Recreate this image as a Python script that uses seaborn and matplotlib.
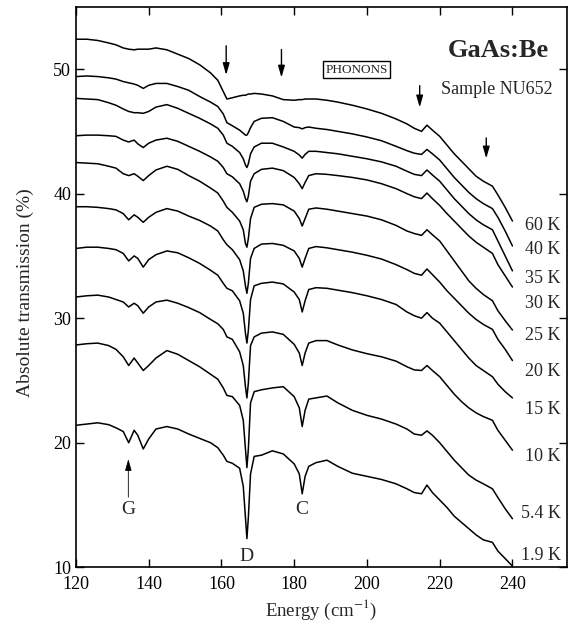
import numpy as np
import pandas as pd
import matplotlib
matplotlib.use("Agg")
import matplotlib.pyplot as plt
import seaborn as sns

# energy grid (cm^-1), denser around the sharp local-mode lines
energy = [120, 123, 126, 129, 131, 133, 134.5, 136, 137, 138.5,
          140, 142, 145, 148, 151, 154, 157, 159, 160.5, 161.5,
          163, 165, 166, 166.6, 167, 167.4, 168, 169, 171, 174,
          177, 180, 181.4, 182.2, 183, 184, 186, 189, 192, 196,
          200, 204, 208, 211, 213, 215, 216.5, 218, 220, 222,
          224, 226, 228, 230, 232, 234.5, 236, 238, 240]

# absolute transmission (%), one list per temperature
t60 = [52.4, 52.4, 52.3, 52.1, 51.95, 51.7, 51.6, 51.55, 51.6, 51.6,
       51.6, 51.7, 51.55, 51.2, 50.85, 50.35, 49.7, 49.1, 48.2, 47.6,
       47.7, 47.85, 47.9, 47.9, 47.95, 48.0, 48.0, 48.05, 48.0, 47.85,
       47.55, 47.5, 47.55, 47.55, 47.6, 47.6, 47.6, 47.5, 47.35, 47.1,
       46.8, 46.45, 46.0, 45.6, 45.25, 45.0, 45.5, 45.1, 44.6, 43.9,
       43.2, 42.6, 42.0, 41.4, 41.0, 40.6, 39.9, 38.9, 37.8]
t40 = [49.4, 49.45, 49.4, 49.3, 49.2, 49.0, 48.9, 48.8, 48.7, 48.45,
       48.7, 48.85, 48.85, 48.6, 48.3, 47.8, 47.35, 47.0, 46.4, 45.7,
       45.45, 45.1, 44.85, 44.7, 44.7, 44.9, 45.3, 45.8, 46.05, 46.1,
       45.8, 45.35, 45.3, 45.2, 45.3, 45.35, 45.25, 45.15, 45.0, 44.8,
       44.55, 44.25, 43.8, 43.45, 43.25, 43.15, 43.55, 43.2, 42.7, 42.0,
       41.3, 40.7, 40.1, 39.6, 39.2, 38.8, 38.1, 37.0, 35.8]
t35 = [47.65, 47.6, 47.55, 47.3, 47.1, 46.8, 46.6, 46.5, 46.5, 46.45,
       46.6, 46.95, 47.15, 46.85, 46.45, 46.05, 45.6, 45.25, 44.7, 44.05,
       43.8, 43.3, 42.8, 42.3, 42.1, 42.4, 43.2, 43.75, 44.05, 44.05,
       43.75, 43.4, 43.1, 42.85, 43.15, 43.4, 43.4, 43.3, 43.2, 43.0,
       42.8, 42.55, 42.2, 41.8, 41.55, 41.45, 41.9, 41.5, 41.0, 40.3,
       39.6, 39.0, 38.4, 37.9, 37.5, 37.1, 36.2, 35.0, 33.8]
t30 = [44.65, 44.7, 44.7, 44.65, 44.6, 44.3, 44.15, 44.3, 44.0, 43.7,
       44.05, 44.3, 44.45, 44.2, 43.8, 43.4, 42.95, 42.6, 42.1, 41.6,
       41.35, 40.8, 40.2, 39.6, 39.35, 39.8, 41.0, 41.6, 41.95, 42.05,
       41.85, 41.3, 40.8, 40.4, 40.9, 41.45, 41.6, 41.55, 41.45, 41.3,
       41.1, 40.8, 40.4, 40.0, 39.75, 39.6, 40.05, 39.6, 39.05, 38.4,
       37.8, 37.2, 36.6, 36.1, 35.7, 35.2, 34.3, 33.4, 32.5]
t25 = [42.5, 42.45, 42.4, 42.2, 42.05, 41.6, 41.45, 41.6, 41.4, 41.05,
       41.45, 41.9, 42.2, 41.95, 41.45, 41.0, 40.45, 40.05, 39.4, 38.9,
       38.5, 37.8, 37.1, 36.0, 35.7, 36.4, 38.0, 38.9, 39.15, 39.2,
       39.1, 38.6, 38.0, 37.4, 38.0, 38.75, 38.85, 38.75, 38.6, 38.4,
       38.2, 37.9, 37.45, 37.0, 36.8, 36.65, 37.1, 36.7, 36.2, 35.4,
       34.6, 33.8, 33.0, 32.4, 31.9, 31.4, 30.6, 29.8, 29.05]
t20 = [38.95, 38.95, 38.9, 38.8, 38.7, 38.4, 37.9, 38.3, 38.1, 37.7,
       38.1, 38.5, 38.8, 38.6, 38.2, 37.85, 37.4, 37.0, 36.3, 35.9,
       35.5, 34.7, 33.8, 32.6, 32.0, 32.8, 34.8, 35.6, 35.95, 36.0,
       35.85, 35.4, 34.8, 34.1, 34.8, 35.6, 35.75, 35.65, 35.5, 35.3,
       35.05, 34.75, 34.3, 33.9, 33.6, 33.45, 33.95, 33.5, 32.9, 32.2,
       31.6, 31.0, 30.4, 29.9, 29.5, 29.1, 28.3, 27.5, 26.6]
t15 = [35.6, 35.7, 35.7, 35.6, 35.5, 35.2, 34.6, 35.0, 34.8, 34.1,
       34.7, 35.1, 35.4, 35.25, 34.85, 34.4, 33.85, 33.45, 32.8, 32.4,
       32.2, 31.4, 30.4, 28.8, 28.0, 29.0, 31.5, 32.6, 32.8, 32.9,
       32.75, 32.1, 31.5, 30.5, 31.4, 32.3, 32.45, 32.4, 32.25, 32.05,
       31.8, 31.5, 31.1, 30.5, 30.2, 30.0, 30.45, 30.0, 29.6, 28.9,
       28.2, 27.5, 26.8, 26.2, 25.8, 25.3, 24.7, 24.1, 23.6]
t10 = [31.7, 31.8, 31.85, 31.7, 31.5, 31.3, 30.9, 31.2, 31.0, 30.4,
       30.9, 31.3, 31.45, 31.2, 30.85, 30.45, 29.9, 29.55, 29.1, 28.5,
       28.3, 27.3, 26.2, 24.5, 23.6, 24.8, 27.8, 28.5, 28.8, 28.9,
       28.7, 27.9, 27.2, 26.2, 27.2, 28.0, 28.2, 28.2, 27.85, 27.45,
       27.15, 26.9, 26.55, 26.1, 25.85, 25.8, 26.2, 25.8, 25.3, 24.6,
       23.9, 23.3, 22.8, 22.4, 22.1, 21.8, 21.0, 20.2, 19.4]
t5_4 = [27.85, 27.95, 28.0, 27.8, 27.5, 26.9, 26.2, 26.8, 26.4, 25.8,
        26.2, 26.8, 27.4, 27.1, 26.6, 26.1, 25.5, 25.1, 24.4, 23.8,
        23.7, 23.0, 21.8, 19.5, 18.0, 19.5, 23.2, 24.1, 24.25, 24.4,
        24.5, 23.7, 22.8, 21.3, 22.6, 23.5, 23.6, 23.75, 23.2, 22.6,
        22.2, 21.9, 21.5, 21.1, 20.7, 20.6, 20.95, 20.6, 20.0, 19.3,
        18.6, 18.0, 17.4, 17.0, 16.7, 16.3, 15.6, 14.7, 13.9]
t1_9 = [21.4, 21.5, 21.6, 21.45, 21.2, 20.9, 20.0, 21.0, 20.6, 19.5,
        20.3, 21.1, 21.3, 21.1, 20.7, 20.35, 20.0, 19.6, 19.0, 18.5,
        18.35, 17.95, 16.5, 14.0, 12.3, 14.0, 17.5, 18.9, 19.0, 19.35,
        19.1, 18.3, 17.5, 15.9, 17.3, 18.1, 18.4, 18.6, 18.1, 17.55,
        17.3, 17.05, 16.7, 16.3, 16.0, 15.9, 16.6, 16.0, 15.4, 14.8,
        14.1, 13.6, 13.1, 12.6, 12.2, 12.0, 11.3, 10.7, 10.1]

temps = ["60 K", "40 K", "35 K", "30 K", "25 K", "20 K", "15 K", "10 K", "5.4 K", "1.9 K"]
series = [t60, t40, t35, t30, t25, t20, t15, t10, t5_4, t1_9]
label_y = [37.45, 35.55, 33.15, 31.2, 28.65, 25.75, 22.7, 18.9, 14.35, 10.95]

# phonon arrows (energy, top, bottom)
phonon_x = [161.3, 176.5, 214.5, 232.8]
phonon_top = [52.1, 51.8, 48.9, 44.7]
phonon_bot = [49.3, 49.1, 46.7, 42.6]

df = pd.concat([pd.DataFrame({"energy": energy, "trans": s, "temp": t})
                for s, t in zip(series, temps)], ignore_index=True)

sns.set_style("ticks")
plt.rcParams["font.family"] = ["Liberation Serif", "DejaVu Serif"]
plt.rcParams["mathtext.fontset"] = "stix"

fig = plt.figure(figsize=(5.71, 6.22), dpi=100)
ax = fig.add_axes([0.133, 0.088, 0.860, 0.901])

sns.lineplot(data=df, x="energy", y="trans", hue="temp", palette=["black"] * len(temps),
             legend=False, linewidth=1.1, ax=ax, sort=False)

ax.set_xlim(120, 255)
ax.set_ylim(10, 55)
ax.set_xticks([120, 140, 160, 180, 200, 220, 240])
ax.set_yticks([10, 20, 30, 40, 50])
ax.tick_params(direction="in", length=6, width=1, top=True, right=True,
               labelsize=13, colors="black")
ax.tick_params(axis="x", pad=6)
for sp in ax.spines.values():
    sp.set_linewidth(1.2)
    sp.set_color("black")

ax.set_xlabel("Energy (cm$^{-1}$)", fontsize=13.5)
ax.xaxis.set_label_coords(0.5, -0.055)
ax.set_ylabel("Absolute transmission (%)", fontsize=14)
ax.yaxis.set_label_coords(-0.085, 0.49)

for t, y in zip(temps, label_y):
    ax.text(253.3, y, t, ha="right", va="center", fontsize=13)

for xv, y0, y1 in zip(phonon_x, phonon_top, phonon_bot):
    ax.annotate("", xy=(xv, y1), xytext=(xv, y0),
                arrowprops=dict(arrowstyle="-|>,head_length=0.7,head_width=0.2",
                                color="black", lw=1.0))

ax.text(197.1, 49.95, "PHONONS", ha="center", va="center", fontsize=9.5,
        bbox=dict(boxstyle="square,pad=0.2", fc="white", ec="black", lw=1.0))
ax.text(236.2, 51.5, "GaAs:Be", ha="center", va="center", fontsize=19, fontweight="bold")
ax.text(235.8, 48.4, "Sample NU652", ha="center", va="center", fontsize=13)

ax.annotate("", xy=(134.4, 18.9), xytext=(134.4, 15.4),
            arrowprops=dict(arrowstyle="-|>,head_length=0.7,head_width=0.2",
                            color="black", lw=0.6))
ax.text(134.4, 14.6, "G", ha="center", va="center", fontsize=14)
ax.text(167.0, 10.9, "D", ha="center", va="center", fontsize=14)
ax.text(182.2, 14.6, "C", ha="center", va="center", fontsize=14)

fig.savefig("out.png", dpi=100)
